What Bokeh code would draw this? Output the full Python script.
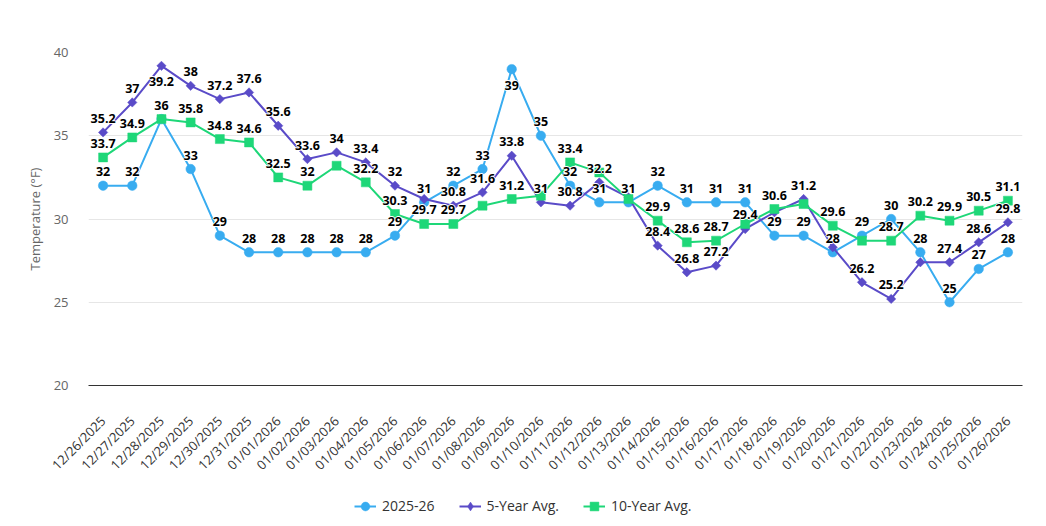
import math

from bokeh.core.properties import value
from bokeh.embed import file_html
from bokeh.layouts import column
from bokeh.models import ColumnDataSource, FactorRange, Legend, LegendItem, Range1d
from bokeh.plotting import figure
from bokeh.resources import INLINE

# ---- data -------------------------------------------------------------
dates = [
    "12/26/2025", "12/27/2025", "12/28/2025", "12/29/2025", "12/30/2025", "12/31/2025",
    "01/01/2026", "01/02/2026", "01/03/2026", "01/04/2026", "01/05/2026", "01/06/2026",
    "01/07/2026", "01/08/2026", "01/09/2026", "01/10/2026", "01/11/2026", "01/12/2026",
    "01/13/2026", "01/14/2026", "01/15/2026", "01/16/2026", "01/17/2026", "01/18/2026",
    "01/19/2026", "01/20/2026", "01/21/2026", "01/22/2026", "01/23/2026", "01/24/2026",
    "01/25/2026", "01/26/2026",
]

season_2025_26 = [32, 32, 36, 33, 29, 28, 28, 28, 28, 28, 29, 31, 32, 33, 39, 35,
                  32, 31, 31, 32, 31, 31, 31, 29, 29, 28, 29, 30, 28, 25, 27, 28]

avg_5yr = [35.2, 37, 39.2, 38, 37.2, 37.6, 35.6, 33.6, 34, 33.4, 32, 31.2, 30.8, 31.6,
           33.8, 31, 30.8, 32.2, 31.3, 28.4, 26.8, 27.2, 29.4, 30.4, 31.2, 28.3, 26.2,
           25.2, 27.4, 27.4, 28.6, 29.8]

avg_10yr = [33.7, 34.9, 36, 35.8, 34.8, 34.6, 32.5, 32, 33.2, 32.2, 30.3, 29.7, 29.7,
            30.8, 31.2, 31.4, 33.4, 32.8, 31.2, 29.9, 28.6, 28.7, 29.7, 30.6, 30.9, 29.6,
            28.7, 28.7, 30.2, 29.9, 30.5, 31.1]

# which point labels are drawn (crowded labels are left out)
labels_2025_26 = [1, 1, 0, 1, 1, 1, 1, 1, 1, 1, 1, 1, 1, 1, 1, 1,
                  1, 1, 1, 1, 1, 1, 1, 1, 1, 1, 1, 1, 1, 1, 1, 1]
labels_5yr = [1, 1, 1, 1, 1, 1, 1, 1, 1, 1, 1, 0, 1, 1, 1, 1,
              1, 1, 0, 1, 1, 1, 1, 0, 1, 0, 1, 1, 0, 1, 1, 1]
labels_10yr = [1, 1, 1, 1, 1, 1, 1, 1, 0, 1, 1, 1, 1, 0, 1, 0,
               1, 0, 0, 1, 1, 1, 0, 1, 0, 1, 0, 1, 1, 1, 1, 1]

series_names = ["2025-26", "5-Year Avg.", "10-Year Avg."]
series_colors = ["#38ACF0", "#5A4BC8", "#1ED778"]

FONT = "Open Sans"
Y_MIN, Y_MAX = 20, 40

# ---- main chart ---------------------------------------------------------
p = figure(
    width=1046, height=485,
    x_range=FactorRange(*dates), y_range=Range1d(Y_MIN, Y_MAX),
    output_backend="svg", toolbar_location=None,
    min_border_left=88, min_border_right=24, min_border_top=52, min_border_bottom=100,
)
p.outline_line_color = None
p.background_fill_color = "white"
p.border_fill_color = "white"

p.xgrid.grid_line_color = None
p.ygrid.grid_line_color = "#e6e6e6"
p.ygrid.grid_line_width = 1

p.yaxis.ticker = [20, 25, 30, 35, 40]
p.yaxis.axis_line_color = None
p.yaxis.major_tick_line_color = None
p.yaxis.minor_tick_line_color = None
p.yaxis.major_tick_out = 0
p.yaxis.major_label_standoff = 20
p.yaxis.major_label_text_font = FONT
p.yaxis.major_label_text_font_size = "13px"
p.yaxis.major_label_text_color = "#666666"
p.yaxis.axis_label = "Temperature (°F)"
p.yaxis.axis_label_text_font = FONT
p.yaxis.axis_label_text_font_size = "13px"
p.yaxis.axis_label_text_font_style = "normal"
p.yaxis.axis_label_text_color = "#666666"
p.yaxis.axis_label_standoff = 7

p.xaxis.axis_line_color = "#333333"
p.xaxis.axis_line_width = 1
p.xaxis.major_tick_line_color = None
p.xaxis.major_tick_out = 0
p.xaxis.major_label_orientation = math.pi / 4
p.xaxis.major_label_standoff = 33
p.xaxis.major_label_text_font = FONT
p.xaxis.major_label_text_font_size = "13px"
p.xaxis.major_label_text_color = "#333333"

# ---- series -------------------------------------------------------------
series_values = [season_2025_26, avg_5yr, avg_10yr]
label_masks = [labels_2025_26, labels_5yr, labels_10yr]
marker_specs = [("circle", 9.5, 0.0), ("square", 6.6, math.pi / 4), ("square", 9, 0.0)]
legend_markers = ["circle", "diamond", "square"]
sources = [ColumnDataSource(dict(date=dates, temp=vals)) for vals in series_values]


def add_series(fig, src, color, marker, size, angle):
    ln = fig.line("date", "temp", source=src, line_color=color, line_width=2)
    sc = fig.scatter("date", "temp", source=src, marker=marker, size=size, angle=angle,
                     fill_color=color, line_color=color, line_width=0.5)
    return ln, sc


for src, color, (marker, size, angle) in zip(sources, series_colors, marker_specs):
    add_series(p, src, color, marker, size, angle)

# point labels above every series; labels near the top edge flip below the point
for vals, mask in zip(series_values, label_masks):
    d = [x for x, m in zip(dates, mask) if m]
    v = [y for y, m in zip(vals, mask) if m]
    t = [f"{y:g}" for y in v]
    off = [16 if y > Y_MAX - 1.5 else -14 for y in v]
    lsrc = ColumnDataSource(dict(date=d, temp=v, txt=t, off=off))
    common = dict(source=lsrc, text_font=value(FONT), text_font_size="12.5px",
                  text_font_style="bold", text_align="center", text_baseline="middle")
    for dx, dy in [(-1, 0), (1, 0), (0, -1), (0, 1)]:
        lsrc.data[f"off_{dx}_{dy}"] = [o + dy for o in off]
        p.text("date", "temp", text="txt", text_color="white",
               x_offset=dx, y_offset=f"off_{dx}_{dy}", **common)
    p.text("date", "temp", text="txt", text_color="#000000", y_offset="off", **common)

# ---- legend strip below the chart (frame aligned with the chart's frame) ----
leg = figure(
    width=1046, height=41, output_backend="svg", toolbar_location=None,
    x_range=FactorRange(*dates), y_range=Range1d(Y_MIN, Y_MAX),
    x_axis_type=None, y_axis_type=None, title=None,
    min_border_left=0, min_border_right=0, min_border_top=0, min_border_bottom=0,
)
leg.outline_line_color = None
leg.xgrid.grid_line_color = None
leg.ygrid.grid_line_color = None

legend_items = []
for name, src, color, lm in zip(series_names, sources, series_colors, legend_markers):
    ln, sc = add_series(leg, src, color, lm, 9, 0.0)
    ln.visible = False
    sc.visible = False
    legend_items.append(LegendItem(label=name, renderers=[ln, sc]))

legend = Legend(
    items=legend_items, orientation="horizontal", location=(266, 9.5),
    label_text_font=FONT, label_text_font_size="14px", label_text_color="#333333",
    glyph_width=22, glyph_height=22, label_height=22, label_standoff=6, spacing=24,
    padding=0, margin=0, border_line_color=None, background_fill_alpha=0,
)
leg.add_layout(legend, "center")

page = column(p, leg, spacing=0)
open("out.html", "w").write(file_html(page, INLINE))
